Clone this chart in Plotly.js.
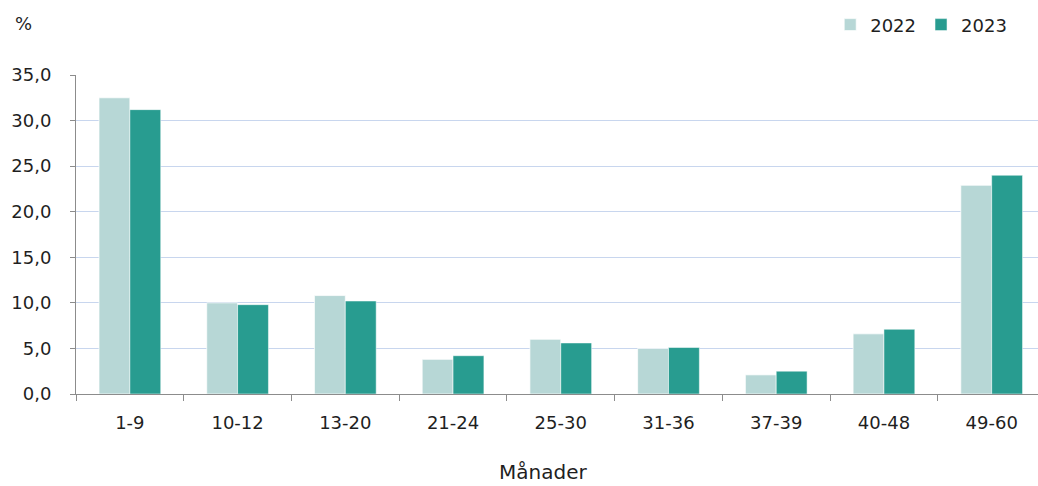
<!DOCTYPE html>
<html><head><meta charset="utf-8">
<script src="https://cdn.plot.ly/plotly-3.0.1.min.js"></script>
<style>html,body{margin:0;padding:0;background:#fff}#chart{width:1038px;height:486px}</style>
</head><body><div id="chart"></div>
<script>
const categories = ["1-9","10-12","13-20","21-24","25-30","31-36","37-39","40-48","49-60"];
const values2022 = [32.5, 10.0, 10.8, 3.8, 6.0, 5.0, 2.1, 6.6, 22.9];
const values2023 = [31.2, 9.8, 10.2, 4.2, 5.6, 5.1, 2.5, 7.1, 24.0];
const seriesNames = ["2022","2023"];
const yTicks = [0,5,10,15,20,25,30,35];
const xTitle = "Månader";
const yUnit = "%";

const font = {family:"DejaVu Sans, Verdana, sans-serif", size:18, color:"#1f1f1f"};
const traces = [
  {type:"bar", name:seriesNames[0], x:categories, y:values2022,
   marker:{color:"#B7D7D6", line:{color:"rgba(255,255,255,0.7)", width:1}}},
  {type:"bar", name:seriesNames[1], x:categories, y:values2023,
   marker:{color:"#289C90", line:{color:"rgba(255,255,255,0.5)", width:1}}}
];
const layout = {
  width:1038, height:486,
  margin:{l:76, r:0, t:75, b:92},
  paper_bgcolor:"#fff", plot_bgcolor:"#fff",
  font:font,
  separators:",.",
  barmode:"group", bargap:0.427, bargroupgap:0,
  showlegend:true,
  legend:{orientation:"h", x:0.784, xanchor:"left", y:1.157, yanchor:"middle",
          font:font, traceorder:"normal", itemwidth:30},
  xaxis:{type:"category", range:[-0.5, 8.43], showline:true, linecolor:"#8c8c8c", linewidth:1,
         ticks:"outside", tickson:"boundaries", ticklen:6, tickcolor:"#8c8c8c",
         ticklabelstandoff:12,
         showgrid:false, tickfont:font, automargin:false},
  yaxis:{range:[0,35], tickvals:yTicks, tickformat:".1f", showline:true, linecolor:"#8c8c8c",
         linewidth:1, ticks:"outside", ticklen:5, tickcolor:"#8c8c8c", ticklabelstandoff:15,
         automargin:false,
         showgrid:true, gridcolor:"#C8D6EE", gridwidth:1, zeroline:false, tickfont:font},
  annotations:[
    {text:yUnit, xref:"paper", yref:"paper", x:-0.066, y:1.16,
     xanchor:"left", yanchor:"middle", showarrow:false, font:font},
    {text:xTitle, xref:"paper", yref:"paper", x:(543-76)/962, y:-(472-394)/319,
     xanchor:"center", yanchor:"middle", showarrow:false, borderpad:0,
     font:{family:font.family, size:20, color:font.color}}
  ]
};
Plotly.newPlot("chart", traces, layout, {displayModeBar:false, staticPlot:true});
</script></body></html>
